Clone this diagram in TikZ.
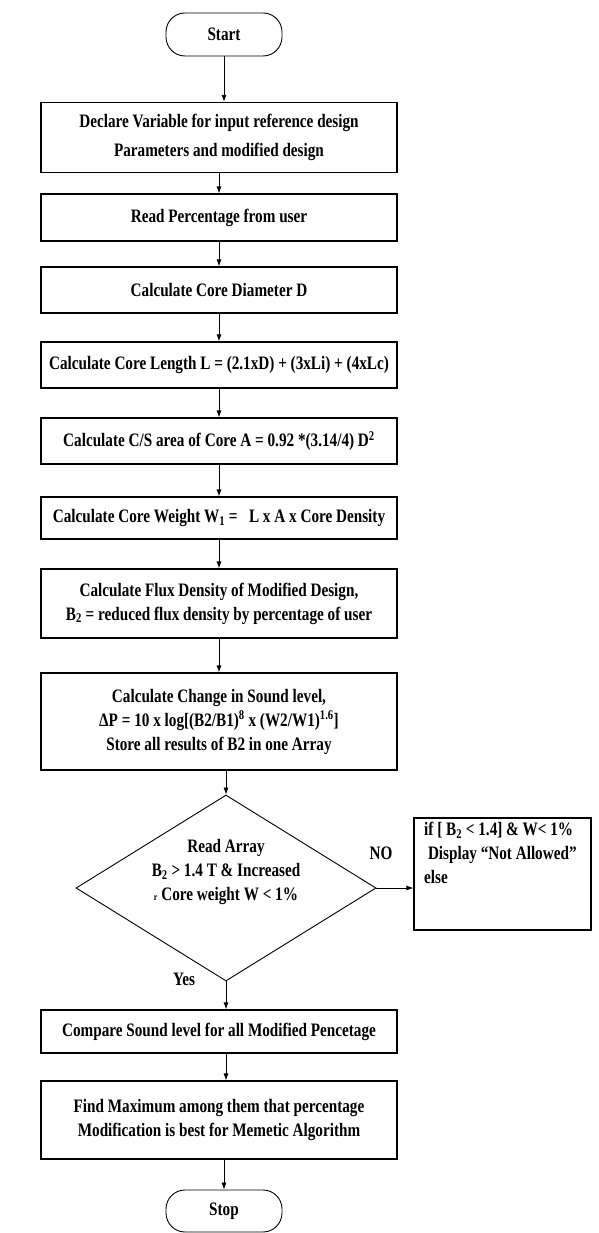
\documentclass[tikz,border=0pt]{standalone}
\usepackage{fontspec}
\setmainfont{Liberation Serif}[FakeStretch=0.8]
\usetikzlibrary{shapes.geometric,arrows.meta}

\begin{document}
\begin{tikzpicture}[x=1pt, y=-1pt,
        txt/.style = {font=\fontsize{19}{24}\selectfont\bfseries, inner sep=0pt},
        box/.style = {txt, draw, line width=1.2pt, minimum width=356pt, align=center},
        term/.style = {txt, draw, line width=0.9pt, rounded corners=19pt, minimum width=116pt},
        decision/.style = {draw, diamond, line width=0.9pt, minimum width=300pt, minimum height=186pt, inner sep=0pt},
        arr/.style = {-{Latex[length=7pt,width=5pt]}, line width=0.8pt}]
                \useasboundingbox (0,0) rectangle (598,1233);
                \node[term, minimum height=43pt] (start) at (224,34.5) {Start};
                \node[box, minimum height=70pt] (b1) at (219,137.5) {Declare Variable for input reference design\\[5pt] Parameters and modified design};
                \node[box, minimum height=47pt] (b2) at (219,217.5) {Read Percentage from user};
                \node[box, minimum height=46pt] (b3) at (219,290) {Calculate Core Diameter D};
                \node[box, minimum height=46pt] (b4) at (219,365) {Calculate Core Length L = (2.1xD) + (3xLi) + (4xLc)};
                \node[box, minimum height=46pt] (b5) at (219,441) {Calculate C/S area of Core A = 0.92 *(3.14/4) D\textsuperscript{2}};
                \node[box, minimum height=42pt] (b6) at (219,518) {Calculate Core Weight W\textsubscript{1} =~~ L x A x Core Density};
                \node[box, minimum height=69pt] (b7) at (219,603.5) {Calculate Flux Density of Modified Design,\\ B\textsubscript{2} = reduced flux density by percentage of user};
                \node[box, minimum height=97pt] (b8) at (219,721.5) {Calculate Change in Sound level,\\ ΔP = 10 x log[(B2/B1)\textsuperscript{8} x (W2/W1)\textsuperscript{1.6}]\\ Store all results of B2 in one Array};
                \node[decision] (dec) at (226,888) {};
                \node[txt, align=center] (dectxt) at (226,872) {Read Array\\ B\textsubscript{2} > 1.4 T \& Increased\\ {\fontsize{10}{10}\selectfont r} Core weight W < 1\%\hspace{18pt}};
                \node[txt, draw, line width=1.2pt, minimum width=177pt, minimum height=112pt] (nobox) at (502.5,874) {};
                \node[txt, align=left, anchor=north west] (notxt) at (424,822) {if [ B\textsubscript{2} < 1.4] \& W< 1\%\\ ~Display “Not Allowed”\\ else};
                \node[txt] (no) at (381,853) {NO};
                \node[txt] (yes) at (184,979) {Yes};
                \node[box, minimum height=43pt] (b9) at (219,1031.5) {Compare Sound level for all Modified Pencetage};
                \node[box, minimum height=78pt] (b10) at (219,1120) {Find Maximum among them that percentage\\ Modification is best for Memetic Algorithm};
                \node[term, minimum height=42pt] (stop) at (224,1211) {Stop};
                \draw[arr] (start) -- (start |- b1.north);
                \draw[arr] (b1) -- (b2);
                \draw[arr] (b2) -- (b3);
                \draw[arr] (b3) -- (b4);
                \draw[arr] (b4) -- (b5);
                \draw[arr] (b5) -- (b6);
                \draw[arr] (b6) -- (b7);
                \draw[arr] (b7) -- (b8);
                \draw[arr] (b8.south -| dec.north) -- (dec.north);
                \draw[arr] (dec.south) -- (dec.south |- b9.north);
                \draw[arr] (dec.east) -- (dec.east -| nobox.west);
                \draw[arr] (b9.south -| dec.south) -- (dec.south |- b10.north);
                \draw[arr] (b10.south -| stop) -- (stop);
            \end{tikzpicture}
\end{document}
